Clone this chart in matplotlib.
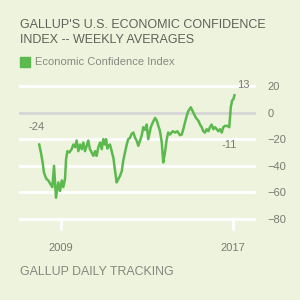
import matplotlib
matplotlib.use('Agg')
import matplotlib.pyplot as plt

# Weekly averages (decimal year, index value)
years = [2008.00, 2008.08, 2008.16, 2008.22, 2008.32, 2008.42, 2008.53, 2008.61, 2008.69, 2008.78,
         2008.89, 2008.97, 2009.05, 2009.12, 2009.20, 2009.25, 2009.31, 2009.40, 2009.51, 2009.59,
         2009.67, 2009.74, 2009.82, 2009.90, 2009.98, 2010.05, 2010.13, 2010.21, 2010.28, 2010.36,
         2010.44, 2010.52, 2010.60, 2010.67, 2010.75, 2010.83, 2010.91, 2010.98, 2011.06, 2011.11,
         2011.17, 2011.21, 2011.29, 2011.37, 2011.45, 2011.53, 2011.60, 2011.68, 2011.76, 2011.84,
         2011.91, 2011.99, 2012.07, 2012.14, 2012.22, 2012.30, 2012.38, 2012.46, 2012.53, 2012.61,
         2012.69, 2012.77, 2012.84, 2012.92, 2013.00, 2013.07, 2013.19, 2013.28, 2013.39, 2013.47,
         2013.54, 2013.62, 2013.70, 2013.77, 2013.85, 2013.93, 2014.00, 2014.08, 2014.21, 2014.32,
         2014.42, 2014.55, 2014.63, 2014.70, 2014.78, 2014.86, 2014.93, 2015.05, 2015.14, 2015.20,
         2015.29, 2015.40, 2015.48, 2015.56, 2015.63, 2015.71, 2015.79, 2015.87, 2015.94, 2016.02,
         2016.10, 2016.18, 2016.26, 2016.33, 2016.41, 2016.49, 2016.56, 2016.64, 2016.75, 2016.84,
         2016.91, 2016.97, 2017.03, 2017.08]
eci = [-24, -30, -37.5, -45, -49.5, -51, -54, -56, -40, -64,
       -52.5, -59, -51, -56, -50, -35, -29, -30, -27.5, -24,
       -26, -21, -29, -24, -27.5, -22.5, -29, -25, -21, -27.5,
       -30, -32.5, -29, -32.5, -26, -22.5, -27.5, -20, -24, -20,
       -27, -25, -24, -29, -34, -44, -52.5, -50, -47.5, -44,
       -36, -30, -24, -20, -19, -16, -15, -19, -21, -25,
       -21, -17, -11, -13, -9, -20, -11, -7.5, -4, -6,
       -10, -14, -22.5, -37.5, -30, -20, -15, -16.5, -14, -15,
       -14, -17, -16.5, -12.5, -7.5, -2.5, 1, 4, 1, -1,
       -4, -6, -9, -11, -14, -15, -12.5, -14, -11, -9,
       -12.5, -11, -12.5, -14, -12.5, -15, -11, -10, -10, -11,
       4, 9, 10, 13]

y_ticks = [20, 0, -20, -40, -60, -80]
x_ticks = [2009, 2017]
x_labels = ['2009', '2017']

BG = '#edf3dd'
GREEN = '#5cb94e'
TXT = '#7b7b73'

plt.rcParams['font.family'] = ['Liberation Sans', 'DejaVu Sans']

fig = plt.figure(figsize=(3, 3), dpi=100, facecolor=BG)
ax = fig.add_axes([20 / 300, 1 - 219 / 300, 234 / 300, 133 / 300])
ax.set_facecolor(BG)

# gridlines
for v in y_ticks:
    ax.axhline(v, color='#d6d6d6' if v == 0 else 'white', lw=2, zorder=1, clip_on=False)

ax.plot(years, eci, color=GREEN, lw=1.8, zorder=3, solid_joinstyle='round')

ax.set_ylim(-80, 20)
ax.set_xlim(2007.107, 2017.99)
for s in ax.spines.values():
    s.set_visible(False)

ax.set_yticks(y_ticks)
ax.yaxis.tick_right()
ax.tick_params(axis='y', length=0, pad=10, labelsize=8, labelcolor=TXT)
ax.set_xticks(x_ticks)
ax.set_xticklabels(x_labels)
ax.tick_params(axis='x', length=8, width=2, color='white', pad=9, labelsize=8, labelcolor=TXT)

# point labels
ax.annotate('-24', (years[0], eci[0]), xytext=(-8, 9), textcoords='offset points',
            fontsize=8, color=TXT, ha='left', va='bottom')
ax.annotate('-11', (years[-5], eci[-5]), xytext=(0, -9), textcoords='offset points',
            fontsize=8, color=TXT, ha='center', va='top')
ax.annotate('13', (years[-1], eci[-1]), xytext=(2, 4), textcoords='offset points',
            fontsize=8, color=TXT, ha='left', va='bottom')

# title, legend, footer
fig.text(20 / 300, 1 - 19 / 300, "GALLUP'S U.S. ECONOMIC CONFIDENCE\nINDEX -- WEEKLY AVERAGES",
         fontsize=9, color='#5f625a', ha='left', va='top', linespacing=1.3)
fig.patches.append(plt.Rectangle((20 / 300, 1 - 67 / 300), 10 / 300, 10 / 300,
                                 transform=fig.transFigure, color=GREEN, figure=fig))
fig.text(35 / 300, 1 - 62 / 300, 'Economic Confidence Index', fontsize=8, color='#8a8a82',
         ha='left', va='center')
fig.text(20 / 300, 1 - 266 / 300, 'GALLUP DAILY TRACKING', fontsize=8.9, color='#85877f',
         ha='left', va='top')

fig.savefig('out.png', dpi=100, facecolor=BG)
